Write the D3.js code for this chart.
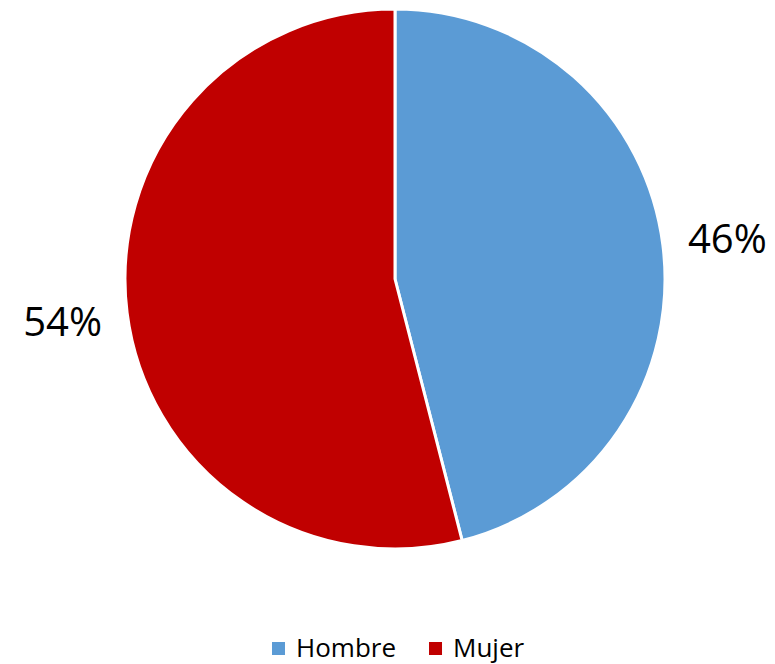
<!DOCTYPE html>
<html><head><meta charset="utf-8">
<script src="https://cdn.jsdelivr.net/npm/d3@7"></script>
<style>body{margin:0;background:#fff}svg{display:block}</style>
</head><body>
<script>
const categories = ["Hombre", "Mujer"];
const values = [46, 54];
const labels = ["46%", "54%"];
const colors = ["#5B9BD5", "#C00000"];

const W = 775, H = 664;
const svg = d3.select("body").append("svg").attr("width", W).attr("height", H);
const cx = 395, cy = 279, r = 270;
const data = categories.map((c, i) => ({cat: c, v: values[i], label: labels[i], color: colors[i]}));
const pie = d3.pie().value(d => d.v).sort(null);
const arc = d3.arc().innerRadius(0).outerRadius(r);
const arcs = pie(data);
const g = svg.append("g").attr("transform", `translate(${cx},${cy})`);
g.selectAll("path").data(arcs).join("path")
  .attr("d", arc).attr("fill", d => d.data.color)
  .attr("stroke", "#fff").attr("stroke-width", 3).attr("stroke-linejoin", "round");

const font = "'Open Sans', sans-serif";
const labelArc = d3.arc().innerRadius(r + 65).outerRadius(r + 65);
g.selectAll("text.lbl").data(arcs).join("text").attr("class", "lbl")
  .attr("x", d => labelArc.centroid(d)[0])
  .attr("y", d => labelArc.centroid(d)[1])
  .attr("text-anchor", "middle").attr("dominant-baseline", "central")
  .attr("font-family", font).attr("font-size", 40).attr("fill", "#000")
  .text(d => d.data.label);

const leg = svg.append("g");
const items = leg.selectAll("g").data(data).join("g");
let xpos = 272;
items.each(function(d) {
  const it = d3.select(this);
  it.append("rect").attr("x", xpos).attr("y", 642).attr("width", 13).attr("height", 13).attr("fill", d.color);
  const t = it.append("text").attr("x", xpos + 24).attr("y", 657)
    .attr("font-family", font).attr("font-size", 26).attr("fill", "#000").text(d.cat);
  xpos += 24 + t.node().getComputedTextLength() + 33;
});
</script>
</body></html>
